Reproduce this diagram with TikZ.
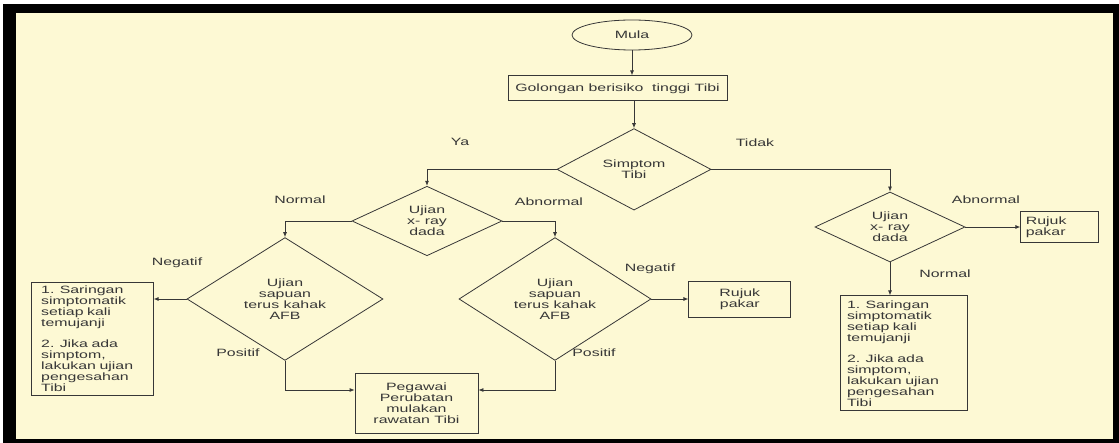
\documentclass[tikz,border=0pt]{standalone}
\usepackage{fontspec}
\setmainfont{Liberation Sans}[FakeStretch=1.5]
\usetikzlibrary{arrows.meta, positioning, shapes.geometric}
\definecolor{paper}{RGB}{253,249,212}
\definecolor{ink}{RGB}{55,55,55}

\begin{document}
\begin{tikzpicture}[
  x=1pt, y=-1pt,
  every node/.style={text=ink, font=\fontsize{10.6}{11}\selectfont},
  box/.style={draw=ink, line width=0.8pt, align=center, inner sep=0pt},
  note/.style={draw=ink, line width=0.8pt, align=left, inner xsep=7pt, inner ysep=3pt},
  decision/.style={draw=ink, line width=0.8pt, diamond, align=center, inner sep=0pt},
  start/.style={draw=ink, line width=0.8pt, ellipse, inner sep=0pt},
  arrow/.style={-{Latex[length=5pt, width=4pt]}, draw=ink, line width=0.8pt}
]
\useasboundingbox (0,0) rectangle (1119,443);
\fill[white] (0,0) rectangle (1119,443);
\fill[black] (3,4) rectangle (1119,443);
\fill[paper] (16,13) rectangle (1113,439);

\node[start, minimum width=120pt, minimum height=30pt] (mula) at (632,35) {Mula};
\node[box, minimum width=219pt, minimum height=25pt, below=25pt of mula, xshift=-14.5pt] (golongan) {Golongan berisiko\ \ tinggi Tibi};
\node[decision, minimum width=154pt, minimum height=68pt, below=27pt of golongan, xshift=16.5pt] (simptom) {Simptom\\Tibi};
\node[decision, minimum width=150pt, minimum height=68pt] (xrayA) at (427,221) {Ujian\\x- ray\\dada};
\node[decision, minimum width=150pt, minimum height=70pt] (xrayB) at (890,227) {Ujian\\x- ray\\dada};
\node[decision, minimum width=196pt, minimum height=88pt] (sapuanA) at (285,299) {Ujian\\sapuan\\terus kahak\\AFB};
\node[decision, minimum width=192pt, minimum height=88pt] (sapuanB) at (555,299) {Ujian\\sapuan\\terus kahak\\AFB};
\node[box, minimum width=123pt, minimum height=60pt] (pegawai) at (416.5,403) {Pegawai\\Perubatan\\mulakan\\rawatan Tibi};
\node[box, minimum width=102pt, minimum height=36pt, right=37pt of sapuanB] (rujukA) {Rujuk\\pakar};
\node[box, align=left, text width=68pt, inner xsep=5pt, minimum height=31pt, right=55pt of xrayB] (rujukB) {Rujuk\\pakar};
\node[note, text width=102pt, inner xsep=10pt, minimum height=113pt, left=33pt of sapuanA, yshift=-39.5pt] (saringA) {1. Saringan\\simptomatik\\setiap kali\\temujanji\\[10pt]2. Jika ada\\simptom,\\lakukan ujian\\pengesahan\\Tibi};
\node[note, text width=113pt, minimum height=115pt, below=33pt of xrayB, xshift=13.5pt] (saringB) {1. Saringan\\simptomatik\\setiap kali\\temujanji\\[10pt]2. Jika ada\\simptom,\\lakukan ujian\\pengesahan\\Tibi};

\node (ya) at (460,142) {Ya};
\node (tidak) at (755,143) {Tidak};
\node (normalA) at (300,200) {Normal};
\node (abnormalA) at (549,202) {Abnormal};
\node (negatifA) at (177,263) {Negatif};
\node (positifA) at (238,353) {Positif};
\node (negatifB) at (650,269) {Negatif};
\node (positifB) at (594,353) {Positif};
\node (abnormalB) at (986,200) {Abnormal};
\node (normalB) at (945,274) {Normal};

\draw[arrow] (mula.south) -- (mula.south |- golongan.north);
\draw[arrow] (simptom.north |- golongan.south) -- (simptom.north);
\draw[arrow] (simptom.west) -| (xrayA.north);
\draw[arrow] (simptom.east) -| (xrayB.north);
\draw[arrow] (xrayA.west) -| (sapuanA.north);
\draw[arrow] (xrayA.east) -| (sapuanB.north);
\draw[arrow] (sapuanA.west) -- (saringA.east |- sapuanA.west);
\draw[arrow] (sapuanB.east) -- (rujukA.west);
\draw[arrow] (sapuanA.south) |- ([yshift=13pt]pegawai.west);
\draw[arrow] (sapuanB.south) |- ([yshift=13pt]pegawai.east);
\draw[arrow] (xrayB.east) -- (rujukB.west);
\draw[arrow] (xrayB.south) -- (xrayB.south |- saringB.north);
\end{tikzpicture}
\end{document}
